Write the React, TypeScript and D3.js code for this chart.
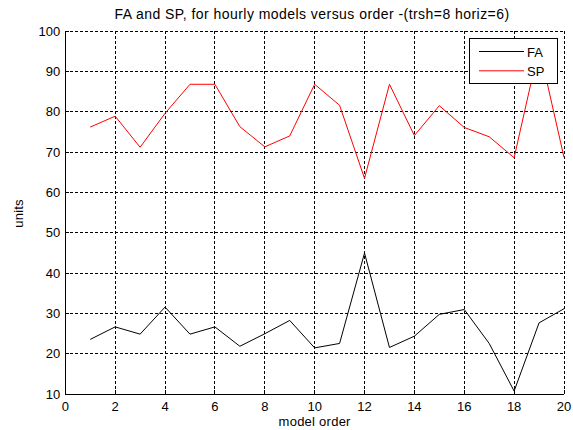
import React from "react";
import * as d3 from "d3";

const orders = [1, 2, 3, 4, 5, 6, 7, 8, 9, 10, 11, 12, 13, 14, 15, 16, 17, 18, 19, 20];
const faValues = [23.6, 26.7, 24.9, 31.6, 24.9, 26.7, 21.9, 25.0, 28.3, 21.5, 22.6, 45.0, 21.6, 24.4, 29.8, 31.0, 22.6, 10.8, 27.7, 31.2];
const spValues = [76.2, 78.9, 71.2, 79.6, 86.8, 86.8, 76.3, 71.3, 74.0, 86.8, 81.6, 63.5, 86.8, 74.1, 81.5, 76.1, 73.8, 68.6, 96.0, 68.7];
const xTicks = [0, 2, 4, 6, 8, 10, 12, 14, 16, 18, 20];
const yTicks = [10, 20, 30, 40, 50, 60, 70, 80, 90, 100];
const seriesNames = ["FA", "SP"];
const seriesColors = ["#000000", "#ff0000"];

export default function App() {
  const W = 573, H = 430;
  const L = 65.3, R = 564, T = 31, B = 394.3;
  const x = d3.scaleLinear().domain([0, 20]).range([L, R]);
  const y = d3.scaleLinear().domain([10, 100]).range([B, T]);
  const line = d3.line<number>().x((_, i) => x(orders[i])).y((d) => y(d));
  const font = "'Liberation Sans', Arial, sans-serif";
  const series = [faValues, spValues];
  return (
    <svg width={W} height={H} style={{ position: "absolute", left: 0, top: 0, background: "#fff" }} fontFamily={font}>
      <rect x={0} y={0} width={W} height={H} fill="#fff" />
      {xTicks.map((t) => (
        <line key={"gx" + t} x1={x(t)} x2={x(t)} y1={B} y2={T} stroke="#000" strokeWidth={1} strokeDasharray="3,2" shapeRendering="crispEdges" />
      ))}
      {yTicks.map((t) => (
        <line key={"gy" + t} x1={L} x2={R} y1={y(t)} y2={y(t)} stroke="#000" strokeWidth={1} strokeDasharray="3,2" shapeRendering="crispEdges" />
      ))}
      {series.map((s, i) => (
        <path key={"s" + i} d={line(s) || ""} fill="none" stroke={seriesColors[i]} strokeWidth={1} />
      ))}
      <line x1={L} x2={L} y1={T} y2={B} stroke="#000" strokeWidth={1} shapeRendering="crispEdges" />
      <line x1={L} x2={R} y1={B} y2={B} stroke="#000" strokeWidth={1} shapeRendering="crispEdges" />
      {xTicks.map((t) => (
        <g key={"tx" + t}>
          <line x1={x(t)} x2={x(t)} y1={B} y2={B - 4} stroke="#000" shapeRendering="crispEdges" />
          <text x={x(t)} y={B + 16.5} textAnchor="middle" fontSize={13} fill="#000">{t}</text>
        </g>
      ))}
      {yTicks.map((t) => (
        <g key={"ty" + t}>
          <line x1={L} x2={L + 4} y1={y(t)} y2={y(t)} stroke="#000" shapeRendering="crispEdges" />
          <text x={L - 5} y={y(t) + 4.5} textAnchor="end" fontSize={13} fill="#000">{t}</text>
        </g>
      ))}
      <text x={312} y={19} textAnchor="middle" fontSize={14} letterSpacing={0.45} fill="#000">FA and SP, for hourly models versus order -(trsh=8 horiz=6)</text>
      <text x={(L + R) / 2} y={426} textAnchor="middle" fontSize={13} letterSpacing={0.25} fill="#000">model order</text>
      <text transform={`translate(23, ${213.5}) rotate(-90)`} textAnchor="middle" fontSize={13} letterSpacing={0.2} fill="#000">units</text>
      <g>
        <rect x={469.5} y={38.5} width={88} height={45} fill="#fff" stroke="#000" strokeWidth={1} shapeRendering="crispEdges" />
        {seriesNames.map((n, i) => (
          <g key={n}>
            <line x1={479} x2={524} y1={51.5 + i * 19.3} y2={51.5 + i * 19.3} stroke={seriesColors[i]} strokeWidth={1} />
            <text x={527} y={56.5 + i * 19.3} fontSize={13} fill="#000">{n}</text>
          </g>
        ))}
      </g>
    </svg>
  );
}
